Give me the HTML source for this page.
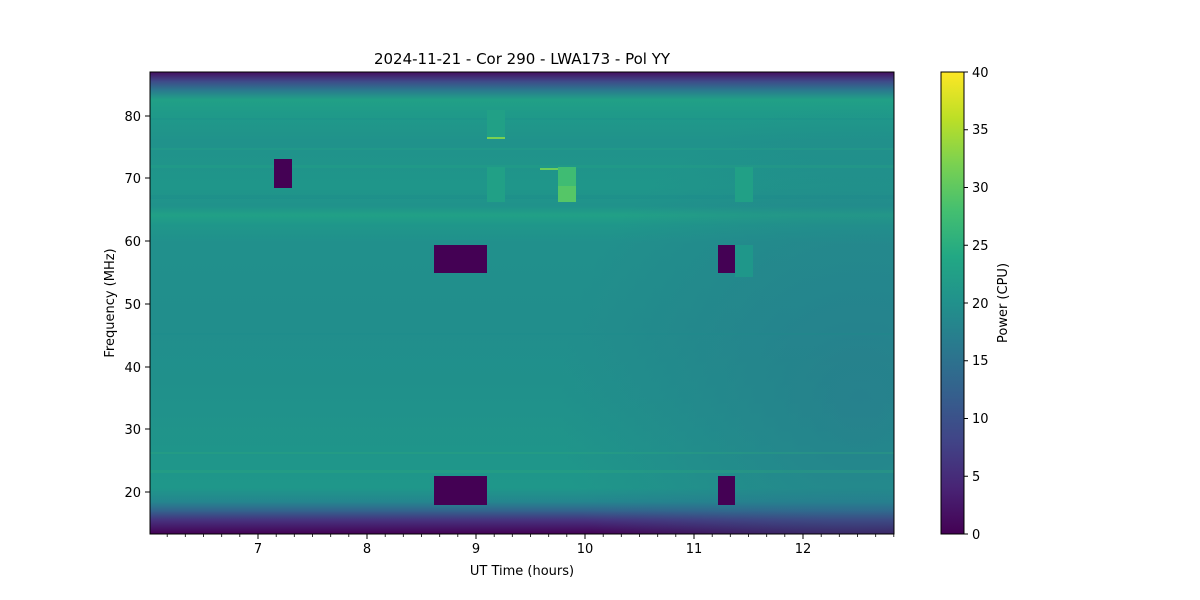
<!DOCTYPE html>
<html><head><meta charset="utf-8"><style>
html,body{margin:0;padding:0;background:#fff;}
svg{display:block;font-family:"DejaVu Sans","Liberation Sans",sans-serif;}
</style></head><body>
<svg width="1200" height="600" viewBox="0 0 1200 600" xmlns="http://www.w3.org/2000/svg">
<defs>
<linearGradient id="bg" x1="0" y1="72" x2="0" y2="534" gradientUnits="userSpaceOnUse">
<stop offset="0" stop-color="#440e5e"/>
<stop offset="0.02" stop-color="#3e4a89"/>
<stop offset="0.04" stop-color="#2a7a8e"/>
<stop offset="0.06" stop-color="#21a086"/>
<stop offset="0.09" stop-color="#1f9a89"/>
<stop offset="0.15" stop-color="#20928b"/>
<stop offset="0.25" stop-color="#1f968a"/>
<stop offset="0.29" stop-color="#20928b"/>
<stop offset="0.31" stop-color="#21a086"/>
<stop offset="0.33" stop-color="#1f978a"/>
<stop offset="0.37" stop-color="#21908c"/>
<stop offset="0.55" stop-color="#218e8c"/>
<stop offset="0.7" stop-color="#20918b"/>
<stop offset="0.85" stop-color="#1f968a"/>
<stop offset="0.9" stop-color="#1f978a"/>
<stop offset="0.93" stop-color="#24868e"/>
<stop offset="0.95" stop-color="#33638d"/>
<stop offset="0.97" stop-color="#46327e"/>
<stop offset="1" stop-color="#440154"/>
</linearGradient>
<radialGradient id="blue" cx="860" cy="400" r="300" gradientUnits="userSpaceOnUse">
<stop offset="0" stop-color="#2a768e" stop-opacity="0.6"/>
<stop offset="1" stop-color="#2a768e" stop-opacity="0"/>
</radialGradient>
<linearGradient id="cb" x1="0" y1="534" x2="0" y2="72" gradientUnits="userSpaceOnUse">
<stop offset="0" stop-color="#440154"/>
<stop offset="0.1" stop-color="#482475"/>
<stop offset="0.2" stop-color="#414487"/>
<stop offset="0.3" stop-color="#355f8d"/>
<stop offset="0.4" stop-color="#2a788e"/>
<stop offset="0.5" stop-color="#21918c"/>
<stop offset="0.6" stop-color="#22a884"/>
<stop offset="0.7" stop-color="#44bf70"/>
<stop offset="0.8" stop-color="#7ad151"/>
<stop offset="0.9" stop-color="#bddf26"/>
<stop offset="1" stop-color="#fde725"/>
</linearGradient>
<clipPath id="c"><rect x="150" y="72" width="744" height="462"/></clipPath>
</defs>
<text x="522" y="64" font-size="15" text-anchor="middle">2024-11-21 - Cor 290 - LWA173 - Pol YY</text>
<rect x="150" y="72" width="744" height="462" fill="url(#bg)"/>
<rect x="150" y="72" width="744" height="462" fill="url(#blue)" clip-path="url(#c)"/>
<g opacity="0.25">
<rect x="150" y="118" width="744" height="2" fill="#1c8a8c"/>
<rect x="150" y="148" width="744" height="2" fill="#25a884"/>
<rect x="150" y="165" width="744" height="3" fill="#25a884"/>
<rect x="150" y="195" width="744" height="4" fill="#1c8a8c"/>
<rect x="150" y="333" width="744" height="2" fill="#1c8a8c"/>
<rect x="150" y="452" width="744" height="2" fill="#30b07a"/>
<rect x="150" y="470" width="744" height="3" fill="#30b07a"/>
</g>
<rect x="487" y="110" width="18" height="28" fill="#21a086"/>
<rect x="487" y="137" width="18" height="2" fill="#7ad151"/>
<rect x="487" y="167" width="18" height="35" fill="#21a086"/>
<rect x="540" y="168" width="18" height="2" fill="#6ccd5a"/>
<rect x="558" y="167" width="18" height="35" fill="#3fbc73"/>
<rect x="558" y="186" width="18" height="16" fill="#55c667"/>
<rect x="735" y="167" width="18" height="35" fill="#21a086"/>
<rect x="735" y="245" width="18" height="32" fill="#1f978a"/>
<g fill="#440154">
<rect x="274" y="159" width="18" height="29"/>
<rect x="434" y="245" width="53" height="28"/>
<rect x="718" y="245" width="17" height="28"/>
<rect x="434" y="476" width="53" height="29"/>
<rect x="718" y="476" width="17" height="29"/>
</g>
<rect x="150" y="72" width="744" height="462" fill="none" stroke="#000" stroke-width="1"/>
<g stroke="#000" stroke-width="1">
<path d="M258 534v5M367 534v5M476 534v5M585 534v5M694 534v5M803 534v5"/>
<path stroke-width="0.8" d="M167.2 534v3M185.3 534v3M203.5 534v3M221.7 534v3M239.8 534v3M276.2 534v3M294.3 534v3M312.5 534v3M330.7 534v3M348.8 534v3M385.2 534v3M403.3 534v3M421.5 534v3M439.7 534v3M457.8 534v3M494.2 534v3M512.3 534v3M530.5 534v3M548.7 534v3M566.8 534v3M603.2 534v3M621.3 534v3M639.5 534v3M657.7 534v3M675.8 534v3M712.2 534v3M730.3 534v3M748.5 534v3M766.7 534v3M784.8 534v3M821.2 534v3M839.3 534v3M857.5 534v3M875.7 534v3M893.8 534v3"/>
<path d="M150 116h-5M150 178h-5M150 241h-5M150 304h-5M150 367h-5M150 429h-5M150 492h-5"/>
</g>
<g font-size="13" text-anchor="middle">
<text x="258" y="553">7</text><text x="367" y="553">8</text><text x="476" y="553">9</text>
<text x="585" y="553">10</text><text x="694" y="553">11</text><text x="803" y="553">12</text>
<text x="522" y="575">UT Time (hours)</text>
</g>
<g font-size="13" text-anchor="end">
<text x="141" y="121">80</text><text x="141" y="183">70</text><text x="141" y="246">60</text>
<text x="141" y="309">50</text><text x="141" y="372">40</text><text x="141" y="434">30</text>
<text x="141" y="497">20</text>
</g>
<text transform="translate(114,303) rotate(-90)" font-size="13" text-anchor="middle">Frequency (MHz)</text>
<rect x="941" y="72" width="23" height="462" fill="url(#cb)" stroke="#000" stroke-width="1"/>
<g stroke="#000"><path d="M964 534h4M964 476.25h4M964 418.5h4M964 360.75h4M964 303h4M964 245.25h4M964 187.5h4M964 129.75h4M964 72h4"/></g>
<g font-size="13">
<text x="972" y="539">0</text><text x="972" y="481">5</text><text x="972" y="423">10</text>
<text x="972" y="365">15</text><text x="972" y="308">20</text><text x="972" y="250">25</text>
<text x="972" y="192">30</text><text x="972" y="134">35</text><text x="972" y="77">40</text>
</g>
<text transform="translate(1007,303) rotate(-90)" font-size="13" text-anchor="middle">Power (CPU)</text>
</svg>
</body></html>
